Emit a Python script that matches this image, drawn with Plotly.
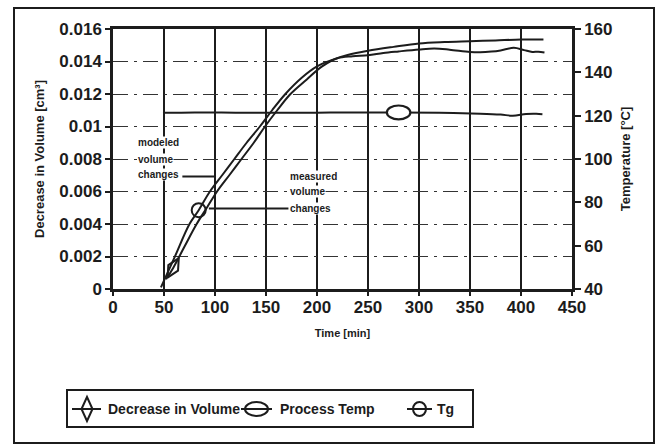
import plotly.graph_objects as go

# ---------------- data ----------------
x_tick_vals = [0, 50, 100, 150, 200, 250, 300, 350, 400, 450]
y_tick_vals = [0, 0.002, 0.004, 0.006, 0.008, 0.010, 0.012, 0.014, 0.016]
y_tick_text = ["0", "0.002", "0.004", "0.006", "0.008", "0.01", "0.012", "0.014", "0.016"]
y2_tick_vals = [40, 60, 80, 100, 120, 140, 160]

# measured volume change (right-hand curve, diamond marker)
vol_time = [52, 59, 70, 82, 92, 102, 114, 126, 138, 149, 161, 174, 190, 205, 220,
            235, 250, 265, 280, 300, 315, 330, 350, 360, 371, 380, 393, 403, 411, 417, 423]
vol_val = [0.0006, 0.0013, 0.0026, 0.0040, 0.0050, 0.0060, 0.0070, 0.0080, 0.0090,
           0.0100, 0.0110, 0.0120, 0.0129, 0.0137, 0.0142, 0.01432, 0.01438, 0.01452,
           0.01462, 0.01474, 0.0148, 0.01473, 0.01459, 0.01457, 0.01461, 0.01468,
           0.01484, 0.0147, 0.01459, 0.0146, 0.01455]

# modeled curve (left-hand curve, circle marker)
tg_time = [47, 60, 75, 84, 95, 107, 119, 131, 144, 156, 169, 185, 200, 215, 230,
           250, 275, 300, 325, 350, 375, 400, 422]
tg_val = [0.0001, 0.0019, 0.0040, 0.00485, 0.0060, 0.0070, 0.0080, 0.0090, 0.0100,
          0.0110, 0.0120, 0.0130, 0.0137, 0.0141, 0.0144, 0.01466, 0.0149, 0.01511,
          0.0152, 0.01525, 0.0153, 0.01535, 0.01536]

# process temperature (right axis)
proc_time = [49, 80, 120, 160, 200, 240, 280, 320, 360, 380, 392, 405, 415, 421]
proc_temp = [121.3, 121.5, 121.4, 121.3, 121.4, 121.5, 121.5, 121.3, 120.9, 120.5,
             120.0, 120.8, 120.9, 120.7]

vol_marker_idx = 1
tg_marker_idx = 3
proc_marker_idx = 6

# ---------------- layout helpers ----------------
INK = "#1c1c1c"
W, H = 662, 447
L, R, T, B = 113, 90, 29, 158
PW, PH = W - L - R, H - T - B
FONT = "Liberation Sans, Arial, sans-serif"


def px(xp):
    return (xp - L) / PW


def py(yp):
    return (H - B - yp) / PH


fig = go.Figure()

fig.add_trace(go.Scatter(x=tg_time, y=tg_val, mode="lines", line=dict(color=INK, width=2),
                         line_shape="spline", name="Tg", showlegend=False))
fig.add_trace(go.Scatter(x=vol_time, y=vol_val, mode="lines", line=dict(color=INK, width=2),
                         line_shape="spline", name="Decrease in Volume", showlegend=False))
fig.add_trace(go.Scatter(x=proc_time, y=proc_temp, mode="lines", yaxis="y2",
                         line=dict(color=INK, width=2), line_shape="spline",
                         name="Process Temp", showlegend=False))

# single markers taken from the series
fig.add_trace(go.Scatter(x=[vol_time[vol_marker_idx]], y=[vol_val[vol_marker_idx]], mode="markers",
                         marker=dict(symbol="diamond-tall-open", size=16, angle=30,
                                     line=dict(color=INK, width=2), color=INK),
                         showlegend=False))
fig.add_trace(go.Scatter(x=[tg_time[tg_marker_idx]], y=[tg_val[tg_marker_idx]], mode="markers",
                         marker=dict(symbol="circle-open", size=14,
                                     line=dict(color=INK, width=2), color=INK),
                         showlegend=False))

shapes = []
# process temp marker: wide ellipse on the process line
pt, pT = proc_time[proc_marker_idx], proc_temp[proc_marker_idx]
shapes.append(dict(type="circle", xref="x", yref="y2", x0=pt - 11.5, x1=pt + 11.5,
                   y0=pT - 3.2, y1=pT + 3.2, line=dict(color=INK, width=2.2),
                   fillcolor="white", layer="above"))

# leader lines
shapes.append(dict(type="line", xref="x", yref="y", x0=68, x1=101, y0=0.00693, y1=0.00693,
                   line=dict(color=INK, width=2)))
shapes.append(dict(type="line", xref="x", yref="y", x0=94, x1=172, y0=0.00495, y1=0.00495,
                   line=dict(color=INK, width=2)))

# outer frame
shapes.append(dict(type="rect", xref="paper", yref="paper", x0=px(14), x1=px(654),
                   y0=py(443), y1=py(8), line=dict(color=INK, width=2)))

# legend box and symbols
ly = 409
shapes.append(dict(type="rect", xref="paper", yref="paper", x0=px(67), x1=px(473),
                   y0=py(427), y1=py(390), line=dict(color=INK, width=2)))
shapes.append(dict(type="line", xref="paper", yref="paper", x0=px(72), x1=px(101),
                   y0=py(ly), y1=py(ly), line=dict(color=INK, width=2)))
shapes.append(dict(type="path", xref="paper", yref="paper",
                   path=f"M {px(87)},{py(397)} L {px(92.5)},{py(ly)} L {px(87)},{py(421)} "
                        f"L {px(81.5)},{py(ly)} Z",
                   line=dict(color=INK, width=2)))
shapes.append(dict(type="line", xref="paper", yref="paper", x0=px(241), x1=px(272),
                   y0=py(ly), y1=py(ly), line=dict(color=INK, width=2)))
shapes.append(dict(type="circle", xref="paper", yref="paper", x0=px(245), x1=px(268),
                   y0=py(416), y1=py(402), line=dict(color=INK, width=2)))
shapes.append(dict(type="line", xref="paper", yref="paper", x0=px(407), x1=px(432),
                   y0=py(ly), y1=py(ly), line=dict(color=INK, width=2)))
shapes.append(dict(type="circle", xref="paper", yref="paper", x0=px(413), x1=px(426),
                   y0=py(416), y1=py(402), line=dict(color=INK, width=2)))

annotations = []
for txt, xp in [("Decrease in Volume", 106), ("Process Temp", 278), ("Tg", 435)]:
    annotations.append(dict(text=txt, xref="paper", yref="paper", x=px(xp), y=py(ly),
                            xanchor="left", yanchor="middle", showarrow=False,
                            font=dict(family=FONT, size=14, color=INK, weight="bold")))

for i, line_txt in enumerate(["modeled", "volume", "changes"]):
    annotations.append(dict(text=line_txt, xref="x", yref="y", x=24, y=[0.00904, 0.00799, 0.00706][i],
                            xanchor="left", yanchor="middle", showarrow=False, bgcolor="white",
                            borderpad=0,
                            font=dict(family=FONT, size=10, color=INK, weight="bold")))
for i, line_txt in enumerate(["measured", "volume", "changes"]):
    annotations.append(dict(text=line_txt, xref="x", yref="y", x=173, y=[0.00693, 0.00599, 0.00495][i],
                            xanchor="left", yanchor="middle", showarrow=False, bgcolor="white",
                            borderpad=0,
                            font=dict(family=FONT, size=10, color=INK, weight="bold")))

tickfont = dict(family=FONT, size=17, color=INK, weight="bold")
titlefont = dict(family=FONT, size=13, color=INK, weight="bold")

fig.update_layout(
    width=W, height=H,
    margin=dict(l=L, r=R, t=T, b=B),
    paper_bgcolor="white", plot_bgcolor="white",
    showlegend=False,
    shapes=shapes,
    annotations=annotations,
    xaxis=dict(range=[0, 450], tickvals=x_tick_vals, ticks="outside", ticklen=4,
               tickwidth=2, tickcolor=INK, tickfont=tickfont, ticklabelstandoff=-3,
               showline=True, linecolor=INK, linewidth=2.5, mirror=True,
               showgrid=True, gridcolor=INK, gridwidth=1.6, zeroline=False,
               title=dict(text="Time [min]", font=dict(family=FONT, size=11, color=INK, weight="bold"),
                          standoff=14)),
    yaxis=dict(range=[0, 0.016], tickvals=y_tick_vals, ticktext=y_tick_text,
               ticks="outside", ticklen=5, tickwidth=2, tickcolor=INK, tickfont=tickfont,
               showline=True, linecolor=INK, linewidth=2.5,
               showgrid=True, gridcolor="#333", gridwidth=1.3, griddash="longdashdot",
               zeroline=False,
               title=dict(text="Decrease in Volume [cm³]", font=titlefont, standoff=12)),
    yaxis2=dict(range=[40, 160], tickvals=y2_tick_vals, overlaying="y", side="right",
                ticks="outside", ticklen=6, tickwidth=2, tickcolor=INK, tickfont=tickfont,
                showline=True, linecolor=INK, linewidth=2.5, showgrid=False, zeroline=False,
                title=dict(text="Temperature [°C]", font=titlefont, standoff=10)),
)

fig.write_html("out.html")
